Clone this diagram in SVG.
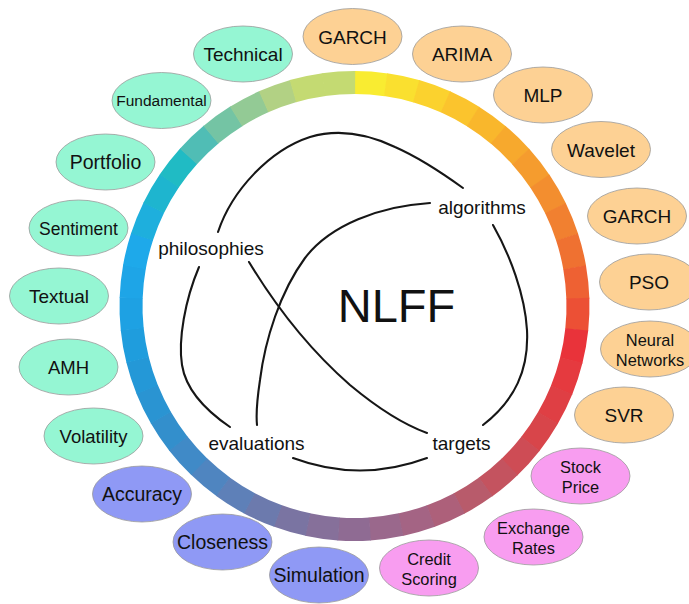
<svg xmlns="http://www.w3.org/2000/svg" xmlns:xlink="http://www.w3.org/1999/xlink" width="689" height="604" viewBox="0 0 689 604">
<style>
  text { font-family: "Liberation Sans", Arial, Helvetica, sans-serif; fill: #111; text-anchor: middle; }
  .node ellipse { stroke: #9a9a9a; stroke-width: 0.8; }
  .g ellipse { fill: #95F6D3; }
  .o ellipse { fill: #FDD194; }
  .p ellipse { fill: #8F99F5; }
  .k ellipse { fill: #F89DF0; }
  .t19 { font-size: 19px; }
  .t16 { font-size: 16.4px; }
  .lbl { font-size: 19px; }
  .edge { fill: none; stroke: #161616; stroke-width: 2.1; stroke-linecap: round; }
</style>
<defs>
  <circle id="seg" cx="354.5" cy="306" r="223.5" fill="none" stroke-width="23" stroke-dasharray="31.9 1400"/>
</defs>
<rect width="689" height="604" fill="#ffffff"/>

<g id="ring">
  <use href="#seg" stroke="#F9EC31" transform="rotate(-90 354.5 306)"/>
  <use href="#seg" stroke="#FAE02F" transform="rotate(-82 354.5 306)"/>
  <use href="#seg" stroke="#FBD22E" transform="rotate(-74 354.5 306)"/>
  <use href="#seg" stroke="#FBC42D" transform="rotate(-66 354.5 306)"/>
  <use href="#seg" stroke="#F9B72C" transform="rotate(-58 354.5 306)"/>
  <use href="#seg" stroke="#F7A92D" transform="rotate(-50 354.5 306)"/>
  <use href="#seg" stroke="#F59C2E" transform="rotate(-42 354.5 306)"/>
  <use href="#seg" stroke="#F38E2F" transform="rotate(-34 354.5 306)"/>
  <use href="#seg" stroke="#F18030" transform="rotate(-26 354.5 306)"/>
  <use href="#seg" stroke="#EF7131" transform="rotate(-18 354.5 306)"/>
  <use href="#seg" stroke="#EE6133" transform="rotate(-10 354.5 306)"/>
  <use href="#seg" stroke="#EC5035" transform="rotate(-2 354.5 306)"/>
  <use href="#seg" stroke="#E9333A" transform="rotate(6 354.5 306)"/>
  <use href="#seg" stroke="#E53A3F" transform="rotate(14 354.5 306)"/>
  <use href="#seg" stroke="#DF3F44" transform="rotate(22 354.5 306)"/>
  <use href="#seg" stroke="#D8454A" transform="rotate(30 354.5 306)"/>
  <use href="#seg" stroke="#CE4C55" transform="rotate(38 354.5 306)"/>
  <use href="#seg" stroke="#C4535F" transform="rotate(46 354.5 306)"/>
  <use href="#seg" stroke="#B85B6B" transform="rotate(54 354.5 306)"/>
  <use href="#seg" stroke="#AD607A" transform="rotate(62 354.5 306)"/>
  <use href="#seg" stroke="#A46484" transform="rotate(70 354.5 306)"/>
  <use href="#seg" stroke="#9A688C" transform="rotate(78 354.5 306)"/>
  <use href="#seg" stroke="#8F6B93" transform="rotate(86 354.5 306)"/>
  <use href="#seg" stroke="#86709A" transform="rotate(94 354.5 306)"/>
  <use href="#seg" stroke="#7A74A2" transform="rotate(102 354.5 306)"/>
  <use href="#seg" stroke="#6C7AAD" transform="rotate(110 354.5 306)"/>
  <use href="#seg" stroke="#5E80B8" transform="rotate(118 354.5 306)"/>
  <use href="#seg" stroke="#4F85C0" transform="rotate(126 354.5 306)"/>
  <use href="#seg" stroke="#408AC7" transform="rotate(134 354.5 306)"/>
  <use href="#seg" stroke="#338FCC" transform="rotate(142 354.5 306)"/>
  <use href="#seg" stroke="#2A94D2" transform="rotate(150 354.5 306)"/>
  <use href="#seg" stroke="#2498D7" transform="rotate(158 354.5 306)"/>
  <use href="#seg" stroke="#1F9DDD" transform="rotate(166 354.5 306)"/>
  <use href="#seg" stroke="#1EA1E3" transform="rotate(174 354.5 306)"/>
  <use href="#seg" stroke="#1EA5E7" transform="rotate(182 354.5 306)"/>
  <use href="#seg" stroke="#1EA9EA" transform="rotate(190 354.5 306)"/>
  <use href="#seg" stroke="#1EAFDD" transform="rotate(198 354.5 306)"/>
  <use href="#seg" stroke="#1EB5CF" transform="rotate(206 354.5 306)"/>
  <use href="#seg" stroke="#20BBC4" transform="rotate(214 354.5 306)"/>
  <use href="#seg" stroke="#50BDB5" transform="rotate(222 354.5 306)"/>
  <use href="#seg" stroke="#74C4A4" transform="rotate(230 354.5 306)"/>
  <use href="#seg" stroke="#93CA95" transform="rotate(238 354.5 306)"/>
  <use href="#seg" stroke="#B2D184" transform="rotate(246 354.5 306)"/>
  <use href="#seg" stroke="#C4DA72" transform="rotate(254 354.5 306)"/>
  <use href="#seg" stroke="#C4DA72" transform="rotate(262 354.5 306)"/>
</g>

<g id="connectors">
  <path class="edge" d="M218,232 C232,190 270,150 310,137 C340,128 370,135 395,147 C420,158 445,175 463,188"/>
  <path class="edge" d="M430,203 C380,206 330,225 305,258 C280,292 265,340 260,380 C257,400 256,415 257,425"/>
  <path class="edge" d="M493,225 C510,255 525,295 527,330 C529,370 515,400 483,425"/>
  <path class="edge" d="M199,267 C185,300 178,340 182,365 C186,390 205,410 230,427"/>
  <path class="edge" d="M249,262 C275,305 310,350 350,385 C380,410 405,425 427,433"/>
  <path class="edge" d="M293,458 Q360,483 427,458"/>
</g>

<g id="center">
  <text x="396.5" y="322" style="font-size:47px">NLFF</text>
</g>
<g id="label-algorithms"><text class="lbl" x="482" y="214">algorithms</text></g>
<g id="label-philosophies"><text class="lbl" x="211" y="255">philosophies</text></g>
<g id="label-evaluations"><text class="lbl" x="256.5" y="450">evaluations</text></g>
<g id="label-targets"><text class="lbl" x="461.5" y="450">targets</text></g>

<g id="node-technical" class="node g"><ellipse cx="243" cy="54" rx="49.5" ry="28"/><text class="t19" x="243" y="61">Technical</text></g>
<g id="node-fundamental" class="node g"><ellipse cx="161.5" cy="100.5" rx="49.5" ry="28"/><text x="161.5" y="106" style="font-size:15.5px">Fundamental</text></g>
<g id="node-portfolio" class="node g"><ellipse cx="105.5" cy="162" rx="49.5" ry="28"/><text x="105.5" y="169" style="font-size:19.5px">Portfolio</text></g>
<g id="node-sentiment" class="node g"><ellipse cx="78.5" cy="228" rx="49.5" ry="28"/><text x="78.5" y="234.5" style="font-size:17.5px">Sentiment</text></g>
<g id="node-textual" class="node g"><ellipse cx="59" cy="296" rx="49.5" ry="28"/><text class="t19" x="59" y="303">Textual</text></g>
<g id="node-amh" class="node g"><ellipse cx="68.5" cy="367" rx="49.5" ry="28"/><text x="68.5" y="373.5" style="font-size:18.5px">AMH</text></g>
<g id="node-volatility" class="node g"><ellipse cx="93.5" cy="436" rx="49.5" ry="28"/><text x="93.5" y="442.5" style="font-size:18.5px">Volatility</text></g>

<g id="node-accuracy" class="node p"><ellipse cx="142" cy="494" rx="49.5" ry="28"/><text x="142" y="501" style="font-size:19.5px">Accuracy</text></g>
<g id="node-closeness" class="node p"><ellipse cx="222.5" cy="542" rx="49.5" ry="28"/><text x="222.5" y="549" style="font-size:19.5px">Closeness</text></g>
<g id="node-simulation" class="node p"><ellipse cx="319" cy="575" rx="49.5" ry="28"/><text x="319" y="582" style="font-size:19.5px">Simulation</text></g>

<g id="node-credit" class="node k"><ellipse cx="429" cy="568" rx="49.5" ry="28"/><text class="t16" x="429" y="564.5">Credit</text><text class="t16" x="429" y="584.5">Scoring</text></g>
<g id="node-exchange" class="node k"><ellipse cx="533.5" cy="537" rx="49.5" ry="28"/><text class="t16" x="533.5" y="533.5">Exchange</text><text class="t16" x="533.5" y="553.5">Rates</text></g>
<g id="node-stock" class="node k"><ellipse cx="580.5" cy="476" rx="49.5" ry="28"/><text class="t16" x="580.5" y="472.5">Stock</text><text class="t16" x="580.5" y="492.5">Price</text></g>

<g id="node-garch-top" class="node o"><ellipse cx="352.5" cy="36.5" rx="49.5" ry="28"/><text class="t19" x="352.5" y="43.5">GARCH</text></g>
<g id="node-arima" class="node o"><ellipse cx="462" cy="54" rx="49.5" ry="28"/><text class="t19" x="462" y="61">ARIMA</text></g>
<g id="node-mlp" class="node o"><ellipse cx="543" cy="95" rx="49.5" ry="28"/><text class="t19" x="543" y="102">MLP</text></g>
<g id="node-wavelet" class="node o"><ellipse cx="601" cy="149.5" rx="49.5" ry="28"/><text class="t19" x="601" y="156.5">Wavelet</text></g>
<g id="node-garch-right" class="node o"><ellipse cx="637" cy="216" rx="49.5" ry="28"/><text class="t19" x="637" y="223">GARCH</text></g>
<g id="node-pso" class="node o"><ellipse cx="649" cy="282" rx="49.5" ry="28"/><text class="t19" x="649" y="289">PSO</text></g>
<g id="node-neural" class="node o"><ellipse cx="650" cy="349" rx="49.5" ry="28"/><text class="t16" x="650" y="345.5">Neural</text><text class="t16" x="650" y="365.5">Networks</text></g>
<g id="node-svr" class="node o"><ellipse cx="624" cy="415" rx="49.5" ry="28"/><text class="t19" x="624" y="422">SVR</text></g>
</svg>
